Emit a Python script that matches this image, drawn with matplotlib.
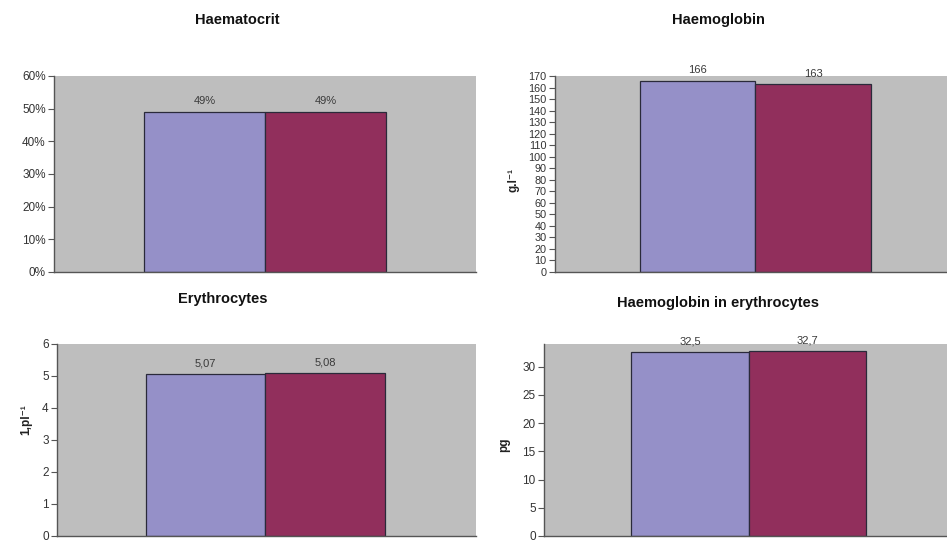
import matplotlib
matplotlib.use("Agg")
import matplotlib.pyplot as plt
from matplotlib.ticker import PercentFormatter, MultipleLocator

plt.rcParams["font.family"] = ["Liberation Sans", "DejaVu Sans"]

# two groups per panel
haematocrit = [0.49, 0.49]
haemoglobin = [166, 163]
erythrocytes = [5.07, 5.08]
hb_in_ery = [32.5, 32.7]

haematocrit_labels = ["49%", "49%"]
haemoglobin_labels = ["166", "163"]
erythrocytes_labels = ["5,07", "5,08"]
hb_in_ery_labels = ["32,5", "32,7"]

titles = ["Haematocrit", "Haemoglobin", "Erythrocytes", "Haemoglobin in erythrocytes"]
ylabels = ["", "g.l\u207b\u00b9", "1,pl\u207b\u00b9", "pg"]

BAR_COLORS = ["#9590c8", "#912f5c"]
PANEL_BG = "#bebebe"
W, H = 947, 542

fig = plt.figure(figsize=(W / 100, H / 100), dpi=100)
fig.patch.set_facecolor("white")


def px_axes(left, top, right, bottom):
    return fig.add_axes([left / W, 1 - bottom / H, (right - left) / W, (bottom - top) / H])


def draw_panel(ax, values, labels, xlim, ylim, step, title, title_xy, ylabel, ylabel_xy,
               pct=False, tick_size=8.5):
    ax.set_facecolor(PANEL_BG)
    ax.bar([-0.5, 0.5], values, width=1.0, color=BAR_COLORS, edgecolor="#2a2a3a",
           linewidth=0.9, zorder=2)
    for x, v, lab in zip([-0.5, 0.5], values, labels):
        ax.annotate(lab, (x, v), xytext=(0, 4), textcoords="offset points",
                    ha="center", va="bottom", fontsize=8, color="#3a3a3a",
                    annotation_clip=False)
    ax.set_xlim(*xlim)
    ax.set_ylim(*ylim)
    ax.yaxis.set_major_locator(MultipleLocator(step))
    if pct:
        ax.yaxis.set_major_formatter(PercentFormatter(1.0, decimals=0))
    ax.set_xticks([])
    for s in ["top", "right"]:
        ax.spines[s].set_visible(False)
    for s in ["left", "bottom"]:
        ax.spines[s].set_color("#555555")
        ax.spines[s].set_linewidth(1.0)
    ax.tick_params(axis="y", direction="out", length=4, width=0.8, colors="#555555",
                   labelcolor="#333333", labelsize=tick_size, pad=2)
    fig.text(title_xy[0] / W, 1 - title_xy[1] / H, title, ha="center", va="center",
             fontsize=10.5, fontweight="bold", color="#111111")
    if ylabel:
        fig.text(ylabel_xy[0] / W, 1 - ylabel_xy[1] / H, ylabel, ha="center", va="center",
                 rotation=90, fontsize=8.5, fontweight="bold", color="#222222")


ax1 = px_axes(54, 76, 476, 272)
draw_panel(ax1, haematocrit, haematocrit_labels, (-1.744, 1.744), (0, 0.6), 0.1,
           titles[0], (237, 20), ylabels[0], None, pct=True)

ax2 = px_axes(555, 76, 947, 272)
draw_panel(ax2, haemoglobin, haemoglobin_labels, (-1.736, 1.66), (0, 170), 10,
           titles[1], (718, 20), ylabels[1], (513, 180), tick_size=7.8)

ax3 = px_axes(57, 344, 476, 536)
draw_panel(ax3, erythrocytes, erythrocytes_labels, (-1.745, 1.766), (0, 6), 1,
           titles[2], (223, 299), ylabels[2], (26, 420))

ax4 = px_axes(544, 344, 947, 536)
draw_panel(ax4, hb_in_ery, hb_in_ery_labels, (-1.74, 1.685), (0, 34), 5,
           titles[3], (718, 303), ylabels[3], (504, 445))

fig.savefig("out.png", dpi=100, facecolor=fig.get_facecolor())
